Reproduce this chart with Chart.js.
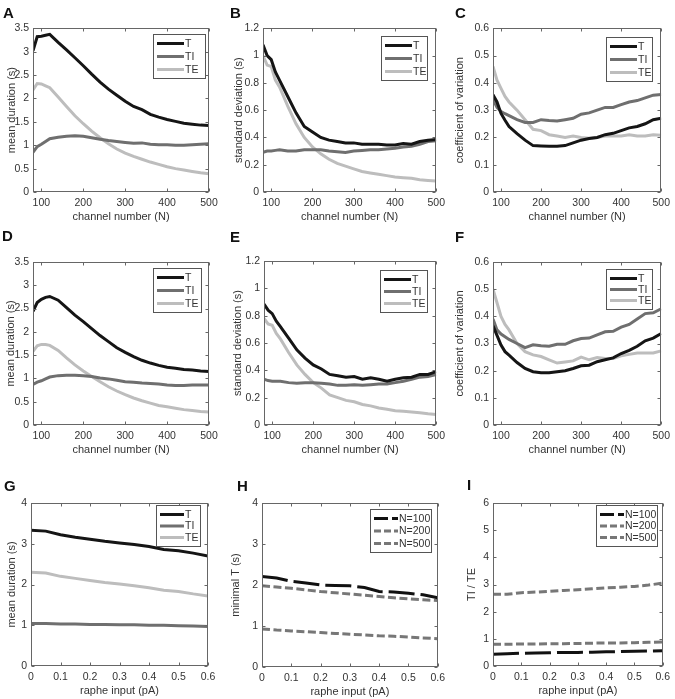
<!DOCTYPE html>
<html><head><meta charset="utf-8">
<script src="https://cdn.jsdelivr.net/npm/chart.js@4.4.1/dist/chart.umd.min.js"></script>
<style>
body{margin:0;background:#fff;width:675px;height:699px;position:relative;overflow:hidden;font-family:"Liberation Sans",Arial,sans-serif}
.lbl{position:absolute;font-weight:bold;font-size:15px;line-height:15px;color:#111;z-index:5}
canvas{position:absolute}
</style></head><body>
<div class="lbl" style="left:3px;top:5px">A</div>
<div class="lbl" style="left:230px;top:5px">B</div>
<div class="lbl" style="left:455px;top:5px">C</div>
<div class="lbl" style="left:2px;top:228px">D</div>
<div class="lbl" style="left:230px;top:229px">E</div>
<div class="lbl" style="left:455px;top:229px">F</div>
<div class="lbl" style="left:4px;top:478px">G</div>
<div class="lbl" style="left:237px;top:478px">H</div>
<div class="lbl" style="left:467px;top:477px">I</div>
<canvas id="cA"></canvas><canvas id="cB"></canvas><canvas id="cC"></canvas>
<canvas id="cD"></canvas><canvas id="cE"></canvas><canvas id="cF"></canvas>
<canvas id="cG"></canvas><canvas id="cH"></canvas><canvas id="cI"></canvas>
<script>
// ---------- data ----------
const X_N = [80,90,100,110,120,140,160,180,200,220,240,260,280,300,320,340,360,380,400,420,440,460,480,500];
const X_RAPHE = [0,0.05,0.1,0.15,0.2,0.25,0.3,0.35,0.4,0.45,0.5,0.55,0.6];

const TICKS_N = [100,200,300,400,500];
const TICKS_RAPHE = [0,0.1,0.2,0.3,0.4,0.5,0.6];
const TICKS_MEAN = [0,0.5,1,1.5,2,2.5,3,3.5];
const TICKS_SD = [0,0.2,0.4,0.6,0.8,1,1.2];
const TICKS_CV = [0,0.1,0.2,0.3,0.4,0.5,0.6];
const TICKS_0_4 = [0,1,2,3,4];
const TICKS_0_6 = [0,1,2,3,4,5,6];

const A_T  = [3.02,3.32,3.33,3.35,3.37,3.2,3.04,2.87,2.7,2.52,2.35,2.2,2.07,1.94,1.83,1.76,1.66,1.6,1.55,1.51,1.47,1.45,1.43,1.42];
const A_TI = [0.85,0.97,1.02,1.08,1.14,1.17,1.19,1.2,1.19,1.16,1.13,1.1,1.08,1.06,1.04,1.05,1.02,1.01,1.01,1.0,1.0,1.01,1.02,1.03];
const A_TE = [2.18,2.32,2.31,2.27,2.23,2.03,1.83,1.63,1.46,1.3,1.16,1.03,0.92,0.83,0.76,0.7,0.64,0.59,0.54,0.5,0.47,0.44,0.41,0.39];

const B_T  = [1.08,1.0,0.97,0.88,0.82,0.7,0.58,0.48,0.44,0.4,0.38,0.37,0.36,0.36,0.35,0.35,0.35,0.345,0.345,0.355,0.35,0.37,0.38,0.385];
const B_TI = [0.29,0.3,0.3,0.305,0.31,0.3,0.3,0.31,0.31,0.31,0.3,0.295,0.29,0.3,0.305,0.31,0.31,0.315,0.32,0.33,0.335,0.35,0.37,0.375];
const B_TE = [1.0,0.93,0.92,0.82,0.77,0.63,0.5,0.4,0.33,0.28,0.24,0.21,0.19,0.17,0.15,0.14,0.13,0.12,0.11,0.105,0.1,0.09,0.085,0.08];

const C_T  = [0.357,0.33,0.288,0.263,0.24,0.214,0.19,0.17,0.169,0.168,0.168,0.17,0.18,0.19,0.196,0.2,0.21,0.215,0.225,0.235,0.24,0.25,0.265,0.27];
const C_TI = [0.34,0.31,0.295,0.287,0.28,0.265,0.255,0.255,0.265,0.262,0.26,0.265,0.27,0.285,0.29,0.3,0.31,0.31,0.32,0.33,0.335,0.345,0.355,0.357];
const C_TE = [0.46,0.41,0.38,0.35,0.33,0.3,0.265,0.23,0.225,0.21,0.205,0.2,0.205,0.2,0.197,0.2,0.205,0.205,0.205,0.21,0.205,0.205,0.21,0.208];

const D_T  = [2.44,2.63,2.7,2.74,2.76,2.68,2.52,2.36,2.22,2.07,1.92,1.79,1.66,1.56,1.47,1.39,1.33,1.28,1.24,1.22,1.19,1.18,1.16,1.15];
const D_TI = [0.87,0.92,0.95,0.99,1.03,1.06,1.07,1.07,1.06,1.04,1.01,0.99,0.96,0.93,0.92,0.9,0.89,0.88,0.86,0.85,0.85,0.86,0.86,0.86];
const D_TE = [1.58,1.7,1.73,1.73,1.71,1.6,1.44,1.29,1.16,1.04,0.93,0.82,0.73,0.65,0.58,0.52,0.47,0.42,0.39,0.36,0.33,0.31,0.29,0.28];

const E_T  = [0.885,0.84,0.815,0.76,0.72,0.635,0.55,0.49,0.44,0.41,0.37,0.36,0.35,0.355,0.335,0.345,0.335,0.32,0.335,0.345,0.35,0.37,0.37,0.39];
const E_TI = [0.335,0.325,0.32,0.32,0.32,0.31,0.305,0.31,0.31,0.305,0.3,0.29,0.29,0.295,0.29,0.295,0.3,0.3,0.31,0.32,0.335,0.35,0.355,0.37];
const E_TE = [0.78,0.74,0.73,0.67,0.63,0.53,0.44,0.37,0.31,0.27,0.22,0.2,0.18,0.17,0.15,0.14,0.125,0.115,0.105,0.1,0.095,0.09,0.082,0.077];

const F_T  = [0.365,0.33,0.294,0.27,0.257,0.23,0.208,0.196,0.192,0.192,0.196,0.2,0.208,0.218,0.22,0.233,0.24,0.247,0.263,0.275,0.29,0.31,0.32,0.337];
const F_TI = [0.39,0.35,0.335,0.325,0.315,0.3,0.285,0.295,0.292,0.29,0.297,0.297,0.31,0.318,0.32,0.332,0.343,0.345,0.36,0.37,0.39,0.41,0.413,0.428];
const F_TE = [0.5,0.45,0.4,0.37,0.35,0.3,0.27,0.258,0.252,0.24,0.228,0.232,0.236,0.25,0.24,0.248,0.245,0.245,0.255,0.26,0.265,0.265,0.265,0.273];

const G_T  = [3.33,3.31,3.22,3.16,3.11,3.06,3.02,2.98,2.93,2.86,2.83,2.77,2.7];
const G_TI = [1.04,1.04,1.03,1.03,1.02,1.02,1.01,1.01,1.0,1.0,0.99,0.98,0.97];
const G_TE = [2.3,2.28,2.2,2.15,2.1,2.05,2.01,1.97,1.92,1.86,1.83,1.77,1.72];

const H_N100 = [2.21,2.17,2.09,2.05,2.0,1.99,1.98,1.94,1.84,1.83,1.8,1.76,1.69];
const H_N200 = [1.98,1.95,1.92,1.88,1.84,1.81,1.78,1.75,1.72,1.69,1.66,1.64,1.62];
const H_N500 = [0.93,0.9,0.88,0.86,0.84,0.82,0.8,0.78,0.76,0.75,0.73,0.71,0.69];

const I_N100 = [0.43,0.45,0.47,0.48,0.49,0.5,0.5,0.51,0.52,0.53,0.54,0.55,0.56];
const I_N200 = [0.8,0.8,0.81,0.81,0.82,0.82,0.83,0.84,0.85,0.85,0.86,0.87,0.88];
const I_N500 = [2.64,2.64,2.7,2.72,2.75,2.78,2.81,2.84,2.88,2.9,2.93,2.98,3.05];

// ---------- styling ----------
const FONT = '"Liberation Sans", Arial, sans-serif';
Chart.defaults.font.family = FONT;
Chart.defaults.color = '#333';
const COL_T = '#151515', COL_TI = '#6f6f6f', COL_TE = '#bdbdbd';
const COL_N100 = '#111111', COL_N200 = '#777777', COL_N500 = '#777777';
const fmt = v => String(Math.round(v * 100) / 100);

const boxPlugin = {
  id: 'mlBox',
  afterDatasetsDraw(chart) {
    const {ctx, chartArea: a, scales: {x, y}} = chart;
    ctx.save();
    ctx.strokeStyle = '#666'; ctx.lineWidth = 1; ctx.setLineDash([]);
    const L = Math.round(a.left) + 0.5, R = Math.round(a.right) - 0.5;
    const T = Math.round(a.top) + 0.5, B = Math.round(a.bottom) - 0.5;
    ctx.strokeRect(L, T, R - L, B - T);
    ctx.beginPath();
    x.ticks.forEach(t => { const p = Math.round(x.getPixelForValue(t.value)) + 0.5;
      ctx.moveTo(p, B); ctx.lineTo(p, B - 3); ctx.moveTo(p, T); ctx.lineTo(p, T + 3); });
    y.ticks.forEach(t => { const p = Math.round(y.getPixelForValue(t.value)) + 0.5;
      ctx.moveTo(L, p); ctx.lineTo(L + 3, p); ctx.moveTo(R, p); ctx.lineTo(R - 3, p); });
    ctx.stroke();
    ctx.restore();
  }
};

const legendPlugin = {
  id: 'mlLegend',
  afterDatasetsDraw(chart, args, o) {
    if (!o || !o.w) return;
    const {ctx, chartArea: a} = chart;
    const ds = chart.data.datasets;
    const x1 = Math.round(a.right - o.dx - o.w), y1 = Math.round(a.top + o.dy);
    ctx.save();
    ctx.fillStyle = '#fff'; ctx.fillRect(x1, y1, o.w, o.h);
    ctx.strokeStyle = '#555'; ctx.lineWidth = 1; ctx.setLineDash([]);
    ctx.strokeRect(x1 + 0.5, y1 + 0.5, o.w, o.h);
    const rowH = (o.h - 18) / (ds.length - 1);
    ds.forEach((d, i) => {
      const yy = y1 + 9.5 + i * rowH;
      ctx.beginPath();
      ctx.setLineDash(d.legendDash || []);
      ctx.strokeStyle = d.borderColor; ctx.lineWidth = d.borderWidth;
      ctx.moveTo(x1 + 4, yy); ctx.lineTo(x1 + 4 + o.lineLen, yy); ctx.stroke();
      ctx.setLineDash([]);
      ctx.fillStyle = '#333'; ctx.font = '10.5px ' + FONT; ctx.textBaseline = 'middle'; ctx.textAlign = 'left';
      ctx.fillText(d.label, x1 + 5 + o.lineLen, yy + 0.5);
    });
    ctx.restore();
  }
};

function ds(label, xs, ys, color, dash, legendDash) {
  return { label, data: xs.map((x, i) => ({x, y: ys[i]})), borderColor: color, borderWidth: 3,
    borderDash: dash || [], legendDash: legendDash || [], pointRadius: 0, tension: 0, fill: false };
}

// canvas columns and rows
const COLS = [[0,225],[225,225],[450,225]];
const ROWS = [[18,212],[244,216],[492,207]];

function makePanel(id, col, row, plot, xMin, xMax, xTicks, yMax, yTicks, xTitle, yTitle, yTitleX, datasets, leg) {
  const [cl, cw] = COLS[col], [rt, rh] = ROWS[row];
  const cv = document.getElementById(id);
  cv.width = cw; cv.height = rh;
  cv.style.left = cl + 'px'; cv.style.top = rt + 'px';
  const [pl, pt, pr, pb] = plot;
  const yW = pl - cl, xH = rt + rh - pb;
  const xTitleY = pb + 25;
  new Chart(cv, {
    type: 'line',
    data: { datasets },
    plugins: [boxPlugin, legendPlugin],
    options: {
      responsive: false, animation: false, devicePixelRatio: 1,
      layout: { padding: { left: 0, top: pt - rt, right: cl + cw - pr, bottom: 0 } },
      plugins: { legend: { display: false }, tooltip: { enabled: false }, mlLegend: leg },
      scales: {
        x: { type: 'linear', min: xMin, max: xMax,
          grid: { display: false, drawTicks: false }, border: { display: false },
          ticks: { font: { size: 10.5 }, color: '#333', padding: 5, autoSkip: false, maxRotation: 0, callback: fmt },
          afterBuildTicks: s => { s.ticks = xTicks.map(v => ({value: v})); },
          afterFit: s => { s.height = xH; },
          title: { display: true, text: xTitle, font: { size: 11 }, color: '#333',
            padding: { top: 0, bottom: (rt + rh) - xTitleY - 6.6 } } },
        y: { type: 'linear', min: 0, max: yMax,
          grid: { display: false, drawTicks: false }, border: { display: false },
          ticks: { font: { size: 10.5 }, color: '#333', padding: 4, callback: fmt },
          afterBuildTicks: s => { s.ticks = yTicks.map(v => ({value: v})); },
          afterFit: s => { s.width = yW; },
          title: { display: true, text: yTitle, font: { size: 11 }, color: '#333',
            padding: { top: yTitleX - cl - 6.6, bottom: 0 } } }
      }
    }
  });
}

const tripleN = (T, TI, TE) => [ds('T', X_N, T, COL_T), ds('TI', X_N, TI, COL_TI), ds('TE', X_N, TE, COL_TE)];
const XT = 'channel number (N)';

makePanel('cA', 0, 0, [33,28,209,192], 80, 500, TICKS_N, 3.5, TICKS_MEAN, XT, 'mean duration (s)', 12,
  tripleN(A_T, A_TI, A_TE), {dx: 4, dy: 6, w: 52, h: 44, lineLen: 27});
makePanel('cB', 1, 0, [263,28,438,192], 80, 500, TICKS_N, 1.2, TICKS_SD, XT, 'standard deviation (s)', 239,
  tripleN(B_T, B_TI, B_TE), {dx: 9, dy: 8, w: 46, h: 44, lineLen: 27});
makePanel('cC', 2, 0, [493,28,667,192], 80, 500, TICKS_N, 0.6, TICKS_CV, XT, 'coefficient of variation', 460,
  tripleN(C_T, C_TI, C_TE), {dx: 9, dy: 9, w: 46, h: 44, lineLen: 27});
makePanel('cD', 0, 1, [33,262,209,425], 80, 500, TICKS_N, 3.5, TICKS_MEAN, XT, 'mean duration (s)', 11,
  tripleN(D_T, D_TI, D_TE), {dx: 8, dy: 6, w: 48, h: 44, lineLen: 27});
makePanel('cE', 1, 1, [264,261,438,425], 80, 500, TICKS_N, 1.2, TICKS_SD, XT, 'standard deviation (s)', 238,
  tripleN(E_T, E_TI, E_TE), {dx: 9, dy: 9, w: 47, h: 42, lineLen: 27});
makePanel('cF', 2, 1, [493,262,667,425], 80, 500, TICKS_N, 0.6, TICKS_CV, XT, 'coefficient of variation', 460,
  tripleN(F_T, F_TI, F_TE), {dx: 9, dy: 7, w: 46, h: 40, lineLen: 27});
makePanel('cG', 0, 2, [31,503,208,666], 0, 0.6, TICKS_RAPHE, 4, TICKS_0_4, 'raphe input (pA)', 'mean duration (s)', 12,
  [ds('T', X_RAPHE, G_T, COL_T), ds('TI', X_RAPHE, G_TI, COL_TI), ds('TE', X_RAPHE, G_TE, COL_TE)],
  {dx: 8, dy: 2, w: 44, h: 41, lineLen: 24});
makePanel('cH', 1, 2, [262,503,438,667], 0, 0.6, TICKS_RAPHE, 4, TICKS_0_4, 'raphe input (pA)', 'minimal T (s)', 236,
  [ds('N=100', X_RAPHE, H_N100, COL_N100, [26,6], [14,4]), ds('N=200', X_RAPHE, H_N200, COL_N200, [8,3.5], [7,3]),
   ds('N=500', X_RAPHE, H_N500, COL_N500, [8,3.5], [7,3])],
  {dx: 7, dy: 6, w: 61, h: 43, lineLen: 24});
makePanel('cI', 2, 2, [493,503,669,666], 0, 0.6, TICKS_RAPHE, 6, TICKS_0_6, 'raphe input (pA)', 'TI / TE', 472,
  [ds('N=100', X_RAPHE, I_N100, COL_N100, [26,6], [14,4]), ds('N=200', X_RAPHE, I_N200, COL_N200, [8,3.5], [7,3]),
   ds('N=500', X_RAPHE, I_N500, COL_N500, [8,3.5], [7,3])],
  {dx: 6, dy: 2, w: 61, h: 41, lineLen: 24});
</script>
</body></html>
